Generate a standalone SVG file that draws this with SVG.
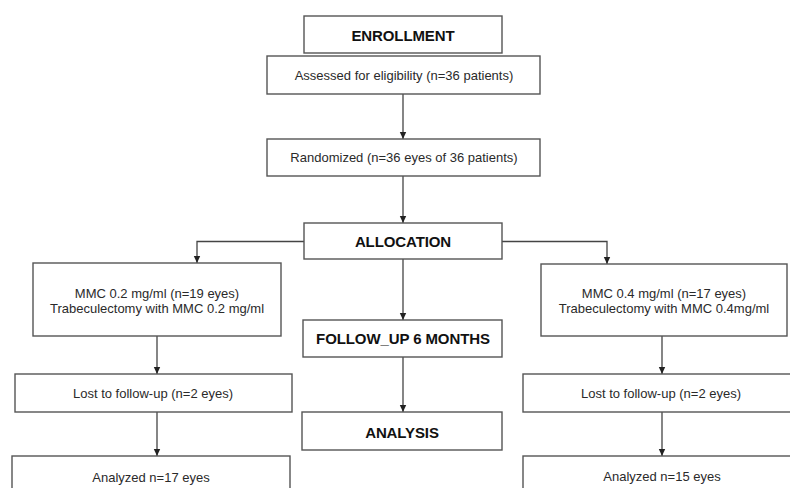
<svg xmlns="http://www.w3.org/2000/svg" width="790" height="488" viewBox="0 0 790 488">
<defs>
<style>
.box{fill:#fff;stroke:#555;stroke-width:1.4}
.t{font-family:"Liberation Sans",Arial,sans-serif;font-size:13px;fill:#2a2a2a;text-anchor:middle}
.b{font-family:"Liberation Sans",Arial,sans-serif;font-size:15px;font-weight:bold;fill:#111;text-anchor:middle;letter-spacing:-0.1px}
.c{fill:none;stroke:#444;stroke-width:1.3}
</style>
<marker id="ah" markerUnits="userSpaceOnUse" markerWidth="8" markerHeight="8" viewBox="0 0 8 8" refX="7" refY="4" orient="auto">
<path d="M0,0.8 L7,4 L0,7.2 Z" fill="#222"/>
</marker>
</defs>
<rect width="790" height="488" fill="#fff"/>
<g id="connectors">
<path class="c" d="M403,94 V139" marker-end="url(#ah)"/>
<path class="c" d="M403,176 V223" marker-end="url(#ah)"/>
<path class="c" d="M304,241.5 H197 V263" marker-end="url(#ah)"/>
<path class="c" d="M502,241.5 H607 V264" marker-end="url(#ah)"/>
<path class="c" d="M403,259 V320" marker-end="url(#ah)"/>
<path class="c" d="M403,357 V412" marker-end="url(#ah)"/>
<path class="c" d="M157,336 V374" marker-end="url(#ah)"/>
<path class="c" d="M157,412 V456" marker-end="url(#ah)"/>
<path class="c" d="M662,336 V374" marker-end="url(#ah)"/>
<path class="c" d="M662,412 V456" marker-end="url(#ah)"/>
</g>
<g id="enrollment"><rect class="box" x="304" y="16" width="198" height="37"/><text class="b" x="403" y="41">ENROLLMENT</text></g>
<g id="assessed"><rect class="box" x="267" y="56" width="273" height="38"/><text class="t" x="404" y="79.5">Assessed for eligibility (n=36 patients)</text></g>
<g id="randomized"><rect class="box" x="267" y="139" width="273" height="37"/><text class="t" x="404" y="162">Randomized (n=36 eyes of 36 patients)</text></g>
<g id="allocation"><rect class="box" x="304" y="223" width="198" height="36"/><text class="b" x="403" y="246.5">ALLOCATION</text></g>
<g id="mmc02"><rect class="box" x="33" y="263" width="248" height="73"/><text class="t" x="157" y="298">MMC 0.2 mg/ml (n=19 eyes)</text><text class="t" x="157" y="313">Trabeculectomy with MMC 0.2 mg/ml</text></g>
<g id="mmc04"><rect class="box" x="541" y="264" width="246" height="72"/><text class="t" x="664" y="297.5">MMC 0.4 mg/ml (n=17 eyes)</text><text class="t" x="664" y="312.5">Trabeculectomy with MMC 0.4mg/ml</text></g>
<g id="followup"><rect class="box" x="303" y="320" width="199" height="37"/><text class="b" x="403" y="344">FOLLOW_UP 6 MONTHS</text></g>
<g id="analysis"><rect class="box" x="302" y="412" width="200" height="38"/><text class="b" x="402" y="438">ANALYSIS</text></g>
<g id="lost-left"><rect class="box" x="15" y="374" width="277" height="38"/><text class="t" x="153" y="398">Lost to follow-up (n=2 eyes)</text></g>
<g id="lost-right"><rect class="box" x="523" y="374" width="277" height="38"/><text class="t" x="661" y="398">Lost to follow-up (n=2 eyes)</text></g>
<g id="analyzed-left"><rect class="box" x="12" y="456" width="278" height="40"/><text class="t" x="151" y="481.5">Analyzed n=17 eyes</text></g>
<g id="analyzed-right"><rect class="box" x="523" y="456" width="277" height="40"/><text class="t" x="662" y="480.5">Analyzed n=15 eyes</text></g>
</svg>
